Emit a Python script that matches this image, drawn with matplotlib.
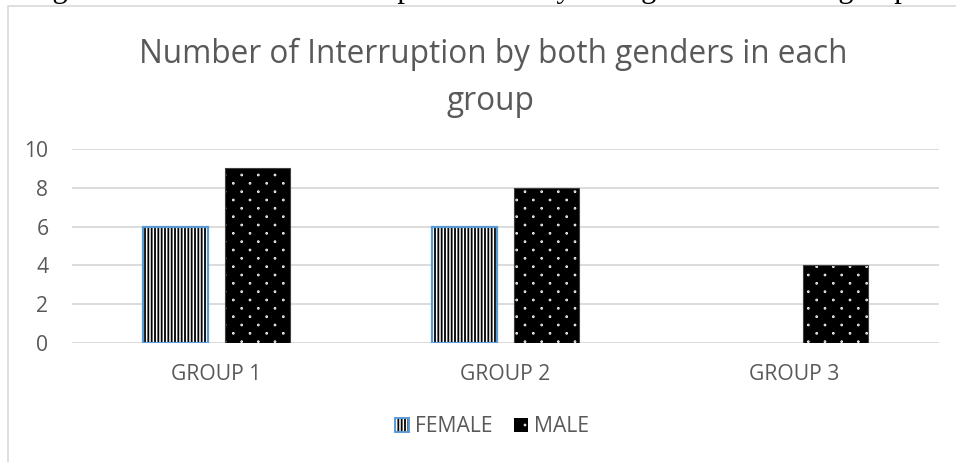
import numpy as np
import matplotlib.pyplot as plt
import matplotlib.hatch as mhatch
from matplotlib.path import Path
from matplotlib.patches import Patch, Rectangle
from matplotlib.legend_handler import HandlerTuple

plt.rcParams['font.family'] = ['Open Sans', 'DejaVu Sans']
plt.rcParams['hatch.linewidth'] = 1.3


# small staggered dots like the Office "dotted" pattern fill
class DotHatch(mhatch.HatchPatternBase):
    def __init__(self, hatch, density):
        n = hatch.count('.') * density
        circ = Path.unit_circle()
        self.v = circ.vertices * 0.0045
        self.c = circ.codes
        self.pts = []
        for r in range(2 * n + 1 if n else 0):
            yy = r / (2 * n)
            if r % 2 == 0:
                xs = np.linspace(0, 1, n + 1)
            else:
                xs = np.linspace(0.5 / n, 1 - 0.5 / n, n)
            self.pts += [(xx, yy) for xx in xs]
        self.num_vertices = len(self.pts) * len(self.v)

    def set_vertices_and_codes(self, vertices, codes):
        vertices[:] = np.concatenate([self.v + p for p in self.pts])
        codes[:] = np.tile(self.c, len(self.pts))


mhatch._hatch_types[:] = [h for h in mhatch._hatch_types
                          if h is not mhatch.SmallFilledCircles] + [DotHatch]

groups = ['GROUP 1', 'GROUP 2', 'GROUP 3']
female = [6, 6, 0]
male = [9, 8, 4]
yticks = [0, 2, 4, 6, 8, 10]

gray_txt = '#595959'
grid_col = '#D9D9D9'
blue = '#5B9BD5'

fig = plt.figure(figsize=(9.56, 4.62), dpi=100)
ax = fig.add_axes([0.0753, 0.2576, 0.9069, 0.4199])

x = np.arange(len(groups))
w = 0.225
off = 0.142

# female: black vertical stripes on white, blue outline
f_edge = [blue if v > 0 else 'none' for v in female]
ax.bar(x - off, female, w, color='white', edgecolor='black', hatch='|||||', linewidth=0, zorder=3)
ax.bar(x - off, female, w, fill=False, edgecolor=f_edge, linewidth=1.6, zorder=4)
# male: black with white dots
ax.bar(x + off, male, w, color='black', edgecolor='white', hatch='.', linewidth=0, zorder=3)
ax.bar(x + off, male, w, fill=False, edgecolor='#404040', linewidth=0.8, zorder=4)

ax.set_xlim(-0.5, 2.5)
ax.set_ylim(0, 10)
ax.set_yticks(yticks)
ax.set_xticks(x)
ax.set_xticklabels(groups)
ax.tick_params(axis='both', length=0, labelcolor=gray_txt, labelsize=15.2)
ax.tick_params(axis='y', pad=17)
ax.tick_params(axis='x', pad=15)
ax.yaxis.grid(True, color=grid_col, linewidth=1.3, zorder=0)
ax.set_axisbelow(True)
for s in ax.spines.values():
    s.set_visible(False)

fig.text(493 / 956, 1 - 63 / 462, 'Number of Interruption by both genders in each',
         ha='center', va='baseline', fontsize=22.7, color=gray_txt)
fig.text(490 / 956, 1 - 110 / 462, 'group', ha='center', va='baseline', fontsize=22.7, color=gray_txt)

# caption of the document, cut off at the top
fig.text(0.49, 1 + 3 / 462, 'Figure 4.11 Number of Interruption made by both genders in each group',
         ha='center', va='baseline', fontsize=22, color='black', family='Liberation Serif')

# chart frame
fig.patches.append(Rectangle((8 / 956, -0.1), 1.2, 1 - 6 / 462 + 0.1, transform=fig.transFigure,
                             fill=False, edgecolor=grid_col, linewidth=1.2))

h_f = (Patch(facecolor='white', edgecolor='black', hatch='|||||', linewidth=0),
       Patch(fill=False, edgecolor=blue, linewidth=1.4))
h_m = Patch(facecolor='black', edgecolor='white', hatch='.', linewidth=0)
fig.legend([h_f, h_m], ['FEMALE', 'MALE'], handler_map={tuple: HandlerTuple(ndivide=1)},
           loc='center', bbox_to_anchor=(492 / 956, 1 - 427 / 462), ncol=2, frameon=False,
           fontsize=15.2, labelcolor=gray_txt, handlelength=0.65, handleheight=0.65,
           handletextpad=0.3, columnspacing=1.0)

fig.savefig('out.png', dpi=100)
